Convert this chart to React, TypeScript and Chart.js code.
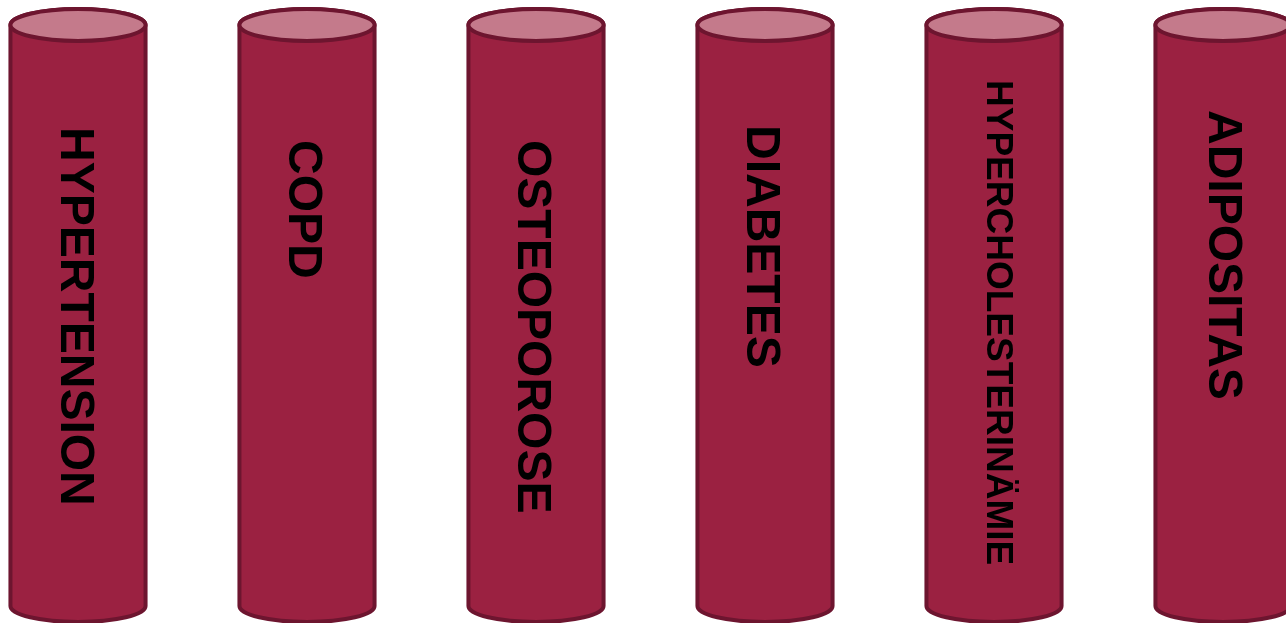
import {useEffect, useRef} from 'react'
import {Chart, registerables} from 'chart.js'
import type {Plugin} from 'chart.js'

Chart.register(...registerables)

const categories = ['HYPERTENSION', 'COPD', 'OSTEOPOROSE', 'DIABETES', 'HYPERCHOLESTERINÄMIE', 'ADIPOSITAS']
const heights = [100, 100, 100, 100, 100, 100]

// label styling: font size, shift from bar centre, start below the top of the bar
const labelSizes = [48, 48, 48, 48, 37, 48]
const labelShiftX = [-4, -5, -5, -5, 3, -1]
const labelStartY = [102, 115, 115, 100, 55, 85]

const bodyColor = '#9b2141'
const capColor = '#c47a8b'
const edgeColor = '#6d152f'
const capRy = 16

const cylinderPlugin: Plugin<'bar'> = {
    id: 'cylinders',
    afterDatasetsDraw(chart) {
        const ctx = chart.ctx
        const meta = chart.getDatasetMeta(0)
        meta.data.forEach((el, i) => {
            const bar = el as unknown as {x: number; y: number; base: number; width: number}
            const rx = bar.width / 2
            const top = bar.y
            const bottom = bar.base

            ctx.save()
            ctx.lineWidth = 4
            ctx.strokeStyle = edgeColor

            ctx.beginPath()
            ctx.moveTo(bar.x - rx, top)
            ctx.lineTo(bar.x - rx, bottom)
            ctx.ellipse(bar.x, bottom, rx, capRy, 0, Math.PI, 0, true)
            ctx.lineTo(bar.x + rx, top)
            ctx.ellipse(bar.x, top, rx, capRy, 0, 0, Math.PI, true)
            ctx.closePath()
            ctx.fillStyle = bodyColor
            ctx.fill()
            ctx.stroke()

            ctx.beginPath()
            ctx.ellipse(bar.x, top, rx, capRy, 0, 0, Math.PI * 2)
            ctx.fillStyle = capColor
            ctx.fill()
            ctx.stroke()

            ctx.translate(bar.x + labelShiftX[i], top + labelStartY[i])
            ctx.rotate(Math.PI / 2)
            ctx.fillStyle = '#000000'
            ctx.font = `bold ${labelSizes[i]}px "Liberation Sans", Arial, sans-serif`
            ctx.textAlign = 'left'
            ctx.textBaseline = 'middle'
            ctx.fillText(String(chart.data.labels?.[i] ?? ''), 0, 0)
            ctx.restore()
        })
    },
}

function CylinderChart() {
    const canvasRef = useRef<HTMLCanvasElement>(null)

    useEffect(() => {
        if (!canvasRef.current) return
        document.body.style.margin = '0'

        const chart = new Chart(canvasRef.current, {
            type: 'bar',
            data: {
                labels: categories,
                datasets: [
                    {
                        data: heights,
                        backgroundColor: 'rgba(0,0,0,0)',
                        borderWidth: 0,
                        categoryPercentage: 1,
                        barPercentage: 0.59,
                    },
                ],
            },
            options: {
                responsive: true,
                maintainAspectRatio: false,
                animation: false,
                layout: {padding: {top: 25, bottom: 17, left: 78, right: 63}},
                plugins: {legend: {display: false}, tooltip: {enabled: false}},
                scales: {
                    x: {display: false, offset: false},
                    y: {display: false, min: 0, max: 100},
                },
            },
            plugins: [cylinderPlugin],
        })

        return () => chart.destroy()
    }, [])

    return (
        <div style={{position: 'relative', width: 1286, height: 623, overflow: 'hidden', background: '#ffffff'}}>
            <canvas ref={canvasRef}/>
        </div>
    )
}

export default function App() {
    return <CylinderChart/>
}
